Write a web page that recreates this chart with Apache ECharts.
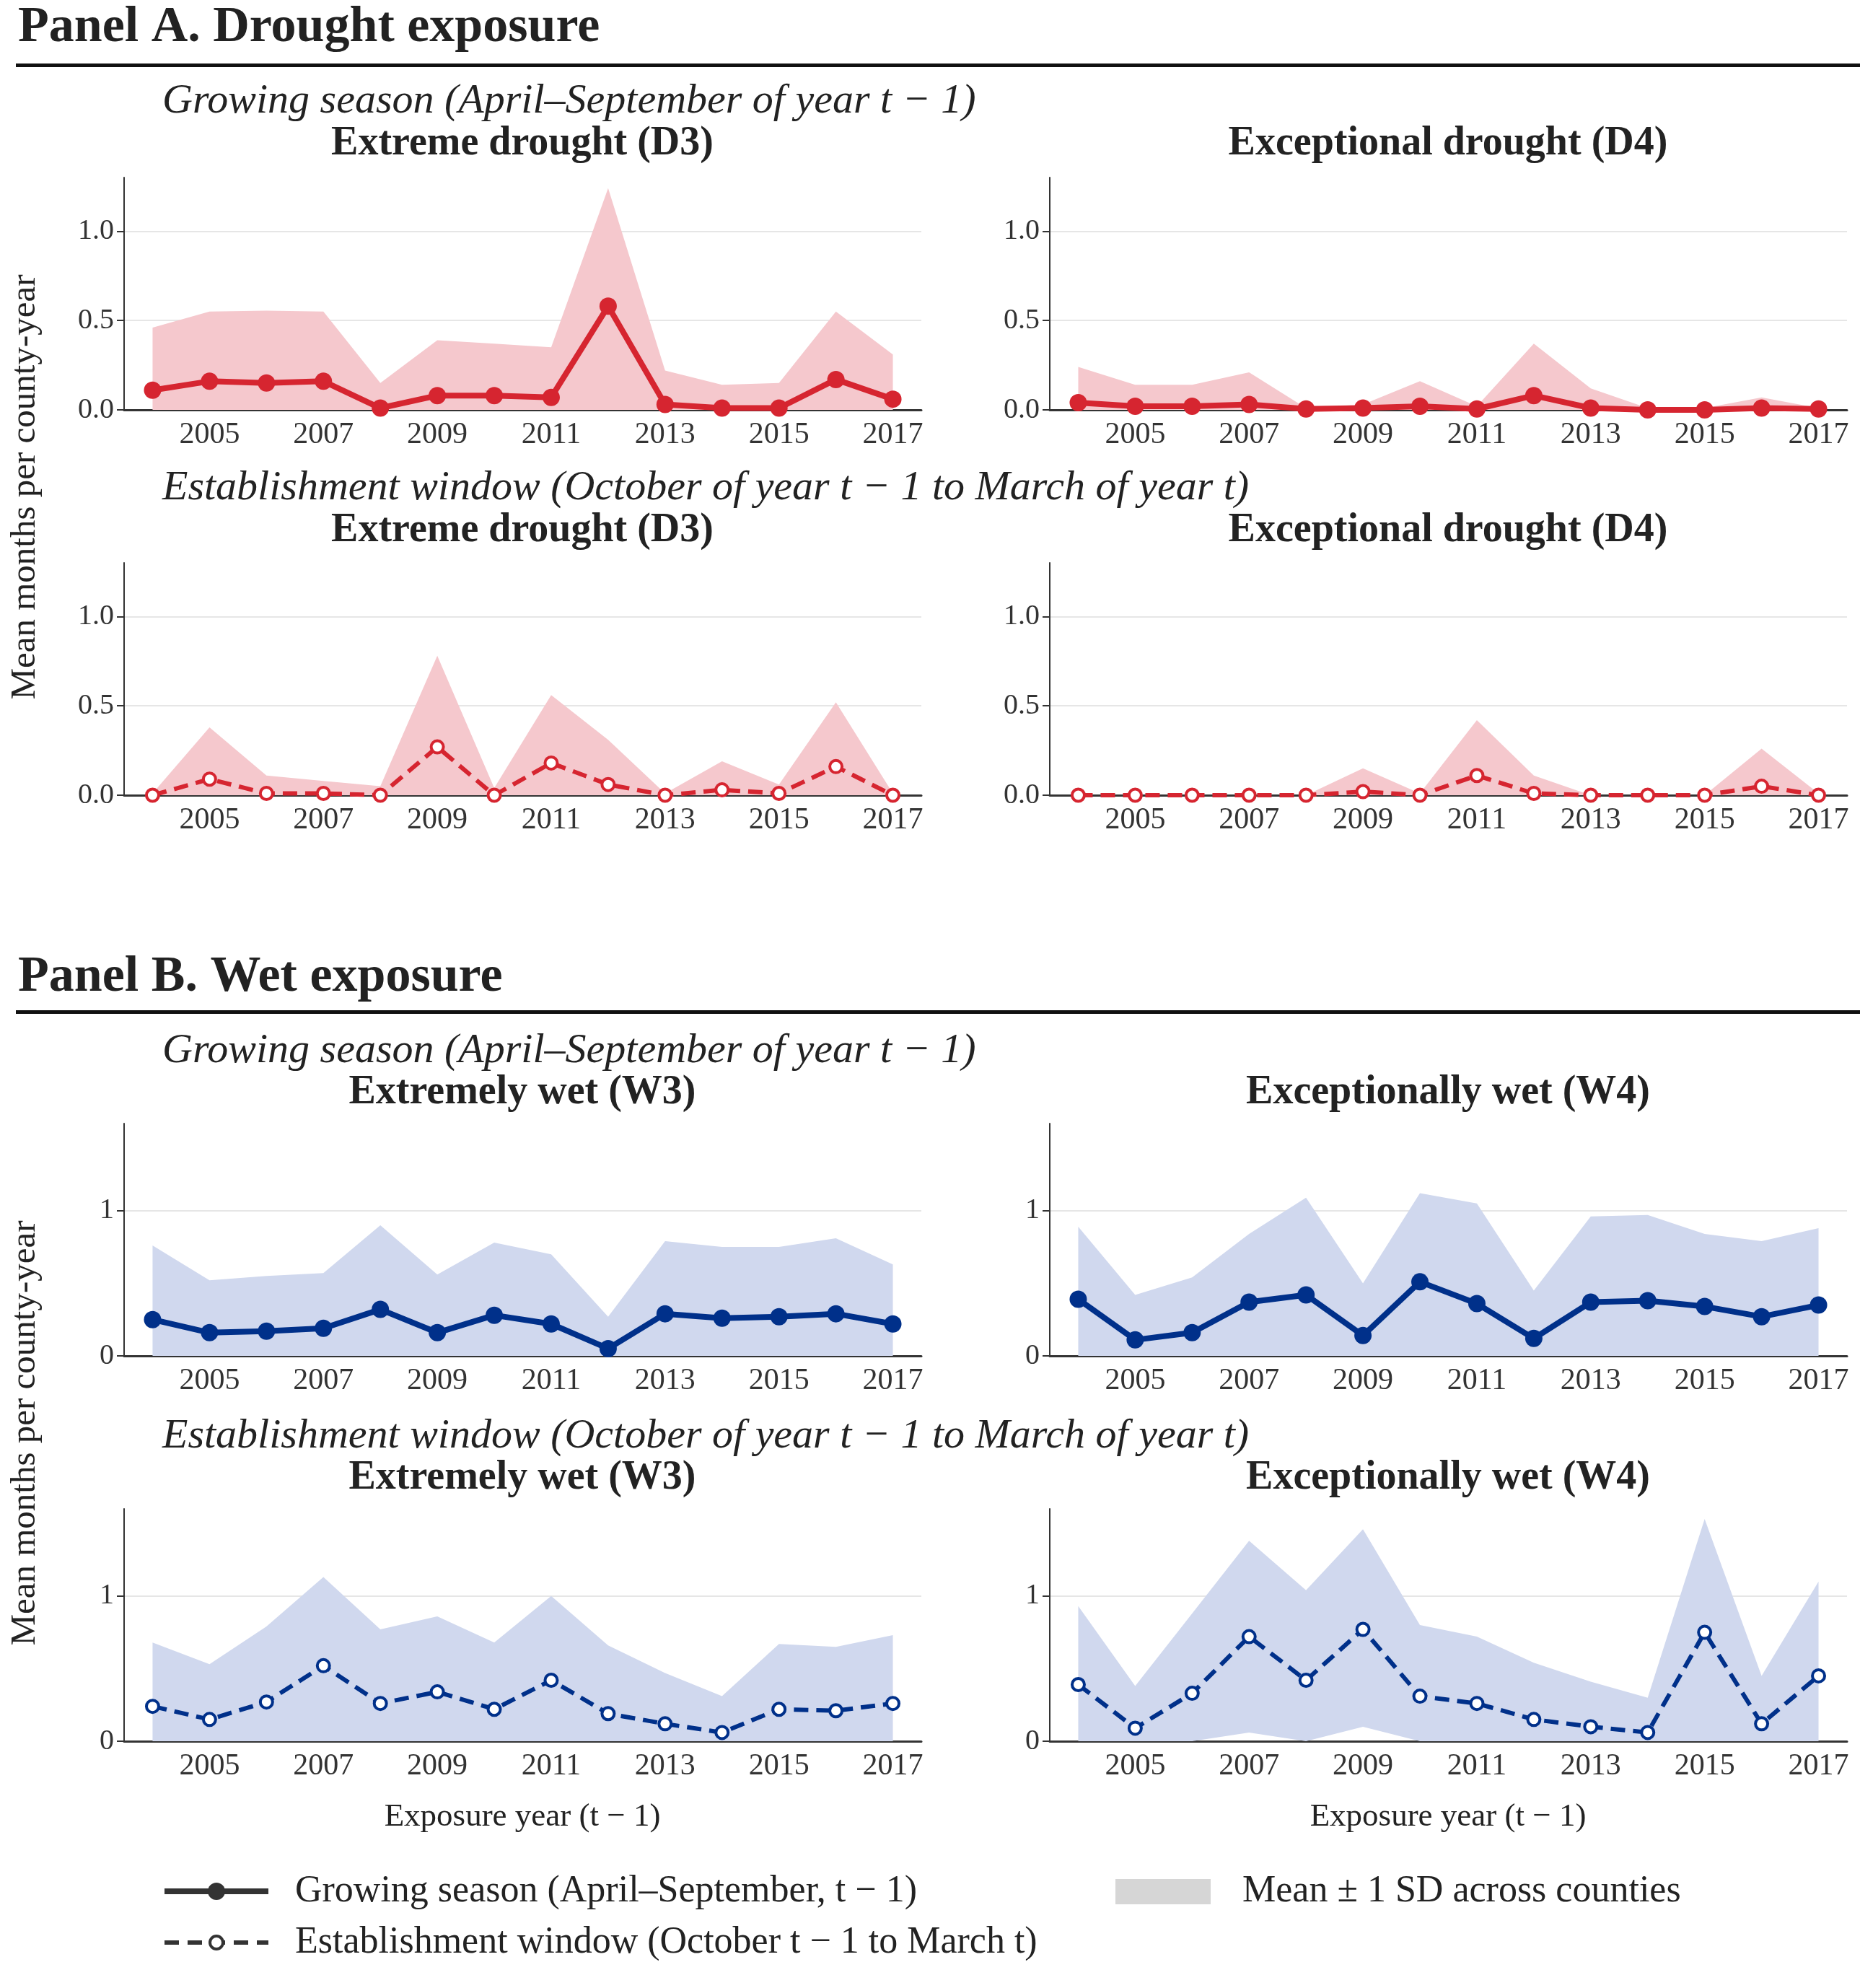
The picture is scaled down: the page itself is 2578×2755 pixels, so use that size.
<!DOCTYPE html>
<html><head><meta charset="utf-8">
<script src="https://cdn.jsdelivr.net/npm/echarts@6/dist/echarts.min.js"></script>
<style>html,body{margin:0;padding:0;background:#fff}#c{width:2578px;height:2755px}</style>
</head><body><div id="c"></div>
<script>
const years = ['2004','2005','2006','2007','2008','2009','2010','2011','2012','2013','2014','2015','2016','2017'];
// Panel A growing season
const aGsD3Mean = [0.11,0.16,0.15,0.16,0.01,0.08,0.08,0.07,0.58,0.03,0.01,0.01,0.17,0.06];
const aGsD3Up   = [0.46,0.55,0.555,0.55,0.15,0.39,0.37,0.35,1.24,0.22,0.14,0.15,0.55,0.31];
const aGsD4Mean = [0.04,0.02,0.02,0.03,0.005,0.01,0.02,0.005,0.08,0.01,0.0,0.0,0.01,0.005];
const aGsD4Up   = [0.24,0.14,0.14,0.21,0.01,0.03,0.16,0.02,0.37,0.12,0.01,0.01,0.07,0.01];
// Panel A establishment window
const aEwD3Mean = [0,0.09,0.01,0.01,0,0.27,0,0.18,0.06,0,0.03,0.01,0.16,0];
const aEwD3Up   = [0.01,0.38,0.11,0.08,0.05,0.78,0.04,0.56,0.31,0.01,0.19,0.06,0.52,0.01];
const aEwD4Mean = [0,0,0,0,0,0.02,0,0.11,0.01,0,0,0,0.05,0];
const aEwD4Up   = [0,0,0,0,0,0.15,0.01,0.42,0.11,0,0,0,0.26,0.01];
// Panel B growing season
const bGsW3Mean = [0.25,0.16,0.17,0.19,0.32,0.16,0.28,0.22,0.05,0.29,0.26,0.27,0.29,0.22];
const bGsW3Up   = [0.76,0.52,0.55,0.57,0.90,0.56,0.78,0.70,0.27,0.79,0.75,0.75,0.81,0.63];
const bGsW4Mean = [0.39,0.11,0.16,0.37,0.42,0.14,0.51,0.36,0.12,0.37,0.38,0.34,0.27,0.35];
const bGsW4Up   = [0.89,0.42,0.54,0.84,1.09,0.50,1.12,1.05,0.45,0.96,0.97,0.84,0.79,0.88];
// Panel B establishment window
const bEwW3Mean = [0.24,0.15,0.27,0.52,0.26,0.34,0.22,0.42,0.19,0.12,0.06,0.22,0.21,0.26];
const bEwW3Up   = [0.68,0.53,0.79,1.13,0.77,0.86,0.68,1.0,0.66,0.47,0.31,0.67,0.65,0.73];
const bEwW4Mean = [0.39,0.09,0.33,0.72,0.42,0.77,0.31,0.26,0.15,0.10,0.06,0.75,0.12,0.45];
const bEwW4Up   = [0.93,0.38,0.88,1.38,1.04,1.46,0.80,0.72,0.54,0.41,0.30,1.53,0.45,1.10];
const bEwW4Low  = [0,0,0,0.06,0,0.10,0,0,0,0,0,0,0,0];
const zeros = years.map(()=>0);

const F = 'Liberation Serif';
const RED='#d62530', REDB='#f5c8cd', BLUE='#00308a', BLUEB='#d0d8ee';
const panels = [
 {mean:aGsD3Mean, up:aGsD3Up, low:zeros, x:172, y:246, c:RED, b:REDB, gs:true, max:1.3, iv:0.5},
 {mean:aGsD4Mean, up:aGsD4Up, low:zeros, x:1455, y:246, c:RED, b:REDB, gs:true, max:1.3, iv:0.5},
 {mean:aEwD3Mean, up:aEwD3Up, low:zeros, x:172, y:780, c:RED, b:REDB, gs:false, max:1.3, iv:0.5},
 {mean:aEwD4Mean, up:aEwD4Up, low:zeros, x:1455, y:780, c:RED, b:REDB, gs:false, max:1.3, iv:0.5},
 {mean:bGsW3Mean, up:bGsW3Up, low:zeros, x:172, y:1557, c:BLUE, b:BLUEB, gs:true, max:1.6, iv:1},
 {mean:bGsW4Mean, up:bGsW4Up, low:zeros, x:1455, y:1557, c:BLUE, b:BLUEB, gs:true, max:1.6, iv:1},
 {mean:bEwW3Mean, up:bEwW3Up, low:zeros, x:172, y:2091, c:BLUE, b:BLUEB, gs:false, max:1.6, iv:1},
 {mean:bEwW4Mean, up:bEwW4Up, low:bEwW4Low, x:1455, y:2091, c:BLUE, b:BLUEB, gs:false, max:1.6, iv:1}
];
const grid=[], xAxis=[], yAxis=[], series=[];
panels.forEach((p,i)=>{
  grid.push({left:p.x, top:p.y, width:1105, height:322});
  xAxis.push({type:'category', gridIndex:i, data:years, boundaryGap:true,
    axisLine:{lineStyle:{color:'#333',width:3}},
    axisTick:{alignWithLabel:true, interval:0, length:12, lineStyle:{color:'#333',width:2}},
    axisLabel:{interval:(idx)=>idx%2===1, fontFamily:F, fontSize:42, color:'#333', margin:14}});
  yAxis.push({type:'value', gridIndex:i, min:0, max:p.max, interval:p.iv,
    axisLine:{show:true, lineStyle:{color:'#333',width:2}},
    axisTick:{show:true, length:10, lineStyle:{color:'#333',width:2}},
    splitLine:{showMaxLine:false, lineStyle:{color:'#e6e6e6',width:2}},
    axisLabel:{showMaxLabel:false, fontFamily:F, fontSize:40, color:'#333', margin:14,
      formatter:v=>p.iv<1?v.toFixed(1):String(v)}});
  series.push({type:'line', xAxisIndex:i, yAxisIndex:i, stack:'s'+i, data:p.low, symbol:'none',
    lineStyle:{opacity:0}, silent:true, z:1});
  series.push({type:'line', xAxisIndex:i, yAxisIndex:i, stack:'s'+i,
    data:p.up.map((u,k)=>+(u-p.low[k]).toFixed(4)), symbol:'none',
    lineStyle:{opacity:0}, areaStyle:{color:p.b, opacity:1}, silent:true, z:1});
  series.push({type:'line', xAxisIndex:i, yAxisIndex:i, data:p.mean, z:5,
    symbol:'circle', symbolSize:p.gs?24:17, showAllSymbol:true,
    lineStyle:{color:p.c, width:p.gs?8:6, type:p.gs?'solid':[20,11]},
    itemStyle:p.gs?{color:p.c}:{color:'#fff', borderColor:p.c, borderWidth:4}});
});
const T=(x,y,text,o)=>({type:'text', x, y, style:Object.assign({text, fontFamily:F, fill:'#222'},o)});
const graphic=[
  T(25,39,'Panel A. Drought exposure',{fontSize:70,fontWeight:'bold',verticalAlign:'middle'}),
  {type:'rect',shape:{x:22,y:88,width:2556,height:5},style:{fill:'#111'}},
  T(225,141,'Growing season (April–September of year t − 1)',{fontSize:58,fontStyle:'italic',verticalAlign:'middle'}),
  T(225,677,'Establishment window (October of year t − 1 to March of year t)',{fontSize:58,fontStyle:'italic',verticalAlign:'middle'}),
  T(25,1355,'Panel B. Wet exposure',{fontSize:70,fontWeight:'bold',verticalAlign:'middle'}),
  {type:'rect',shape:{x:22,y:1400,width:2556,height:5},style:{fill:'#111'}},
  T(225,1457,'Growing season (April–September of year t − 1)',{fontSize:58,fontStyle:'italic',verticalAlign:'middle'}),
  T(225,1991,'Establishment window (October of year t − 1 to March of year t)',{fontSize:58,fontStyle:'italic',verticalAlign:'middle'}),
  T(724,200,'Extreme drought (D3)',{fontSize:56,fontWeight:'bold',align:'center',verticalAlign:'middle'}),
  T(2007,200,'Exceptional drought (D4)',{fontSize:56,fontWeight:'bold',align:'center',verticalAlign:'middle'}),
  T(724,736,'Extreme drought (D3)',{fontSize:56,fontWeight:'bold',align:'center',verticalAlign:'middle'}),
  T(2007,736,'Exceptional drought (D4)',{fontSize:56,fontWeight:'bold',align:'center',verticalAlign:'middle'}),
  T(724,1515,'Extremely wet (W3)',{fontSize:56,fontWeight:'bold',align:'center',verticalAlign:'middle'}),
  T(2007,1515,'Exceptionally wet (W4)',{fontSize:56,fontWeight:'bold',align:'center',verticalAlign:'middle'}),
  T(724,2049,'Extremely wet (W3)',{fontSize:56,fontWeight:'bold',align:'center',verticalAlign:'middle'}),
  T(2007,2049,'Exceptionally wet (W4)',{fontSize:56,fontWeight:'bold',align:'center',verticalAlign:'middle'}),
  {type:'text', x:35, y:675, rotation:Math.PI/2, style:{text:'Mean months per county-year',fontFamily:F,fontSize:49,fill:'#222',align:'center',verticalAlign:'middle'}},
  {type:'text', x:35, y:1986, rotation:Math.PI/2, style:{text:'Mean months per county-year',fontFamily:F,fontSize:49,fill:'#222',align:'center',verticalAlign:'middle'}},
  T(724,2518,'Exposure year (t − 1)',{fontSize:45,align:'center',verticalAlign:'middle'}),
  T(2007,2518,'Exposure year (t − 1)',{fontSize:45,align:'center',verticalAlign:'middle'}),
  {type:'line',shape:{x1:228,y1:2621,x2:372,y2:2621},style:{stroke:'#333',lineWidth:8}},
  {type:'circle',shape:{cx:300,cy:2621,r:12},style:{fill:'#333'}},
  T(409,2621,'Growing season (April–September, t − 1)',{fontSize:52,verticalAlign:'middle'}),
  {type:'line',shape:{x1:228,y1:2692,x2:372,y2:2692},style:{stroke:'#333',lineWidth:6,lineDash:[20,12]}},
  {type:'circle',shape:{cx:300,cy:2692,r:9},style:{fill:'#fff',stroke:'#333',lineWidth:4}},
  T(409,2692,'Establishment window (October t − 1 to March t)',{fontSize:52,verticalAlign:'middle'}),
  {type:'rect',shape:{x:1546,y:2604,width:132,height:35},style:{fill:'#d6d6d6'}},
  T(1722,2621,'Mean ± 1 SD across counties',{fontSize:52,verticalAlign:'middle'})
];
const chart=echarts.init(document.getElementById('c'),null,{renderer:'canvas'});
chart.setOption({animation:false, backgroundColor:'#fff', grid, xAxis, yAxis, series, graphic});
</script></body></html>
